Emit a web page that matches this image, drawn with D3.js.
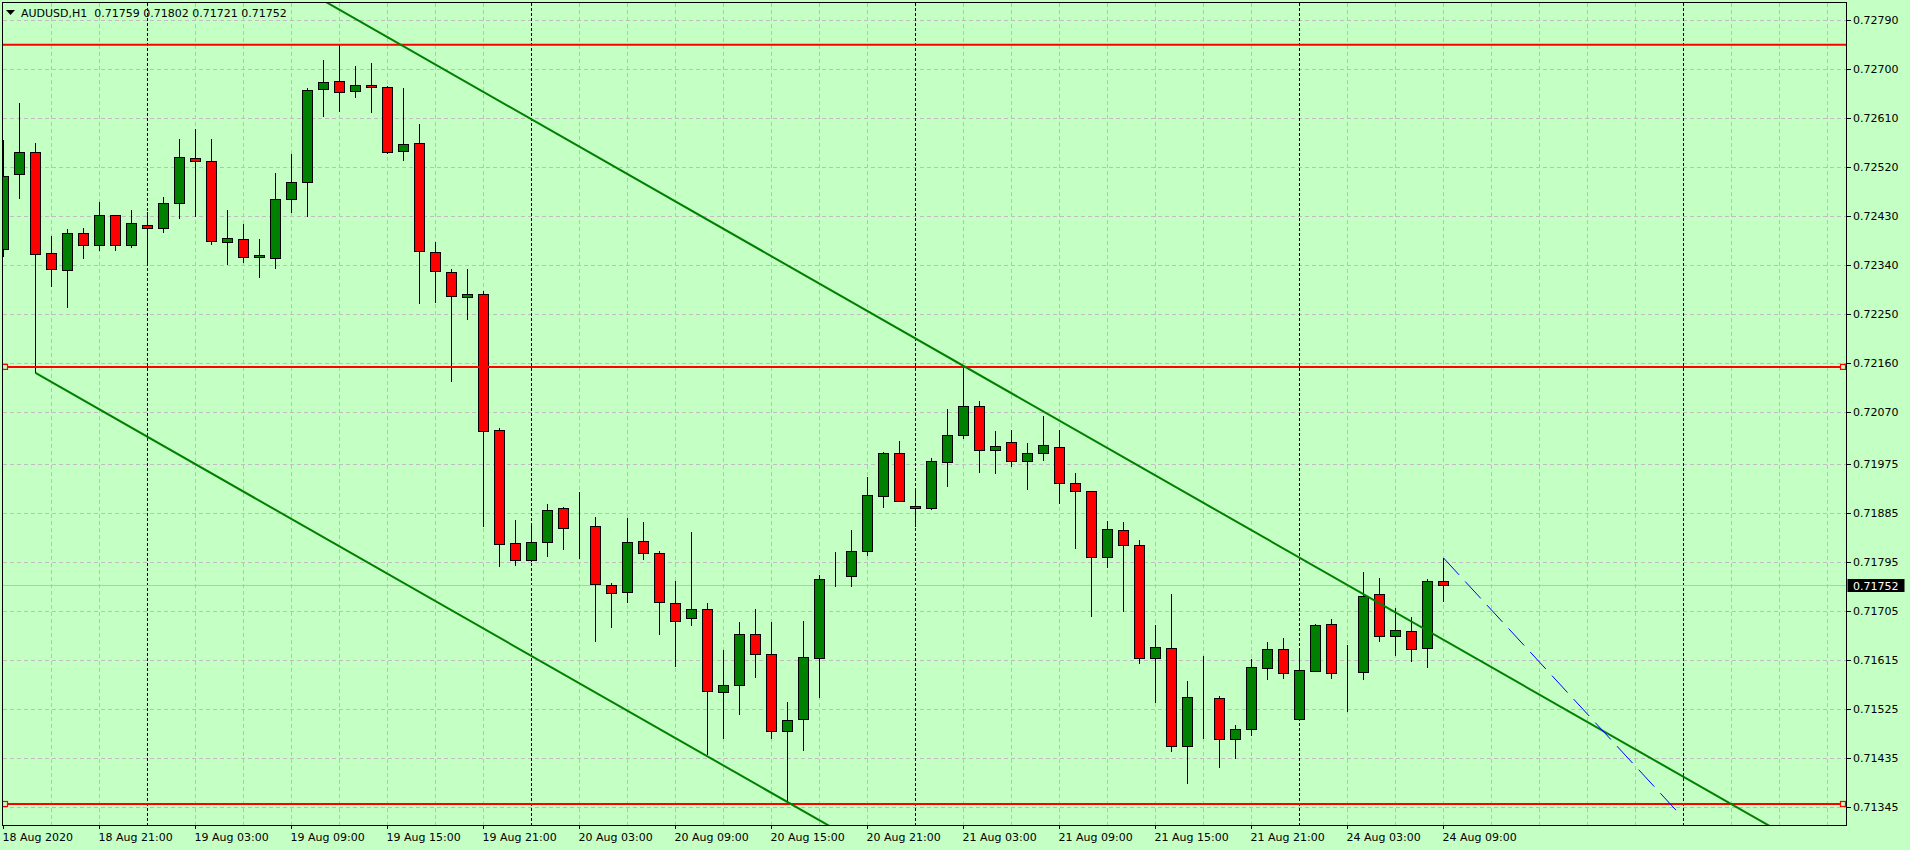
<!DOCTYPE html>
<html>
<head>
<meta charset="utf-8">
<script src="https://cdn.jsdelivr.net/npm/d3@7"></script>
<style>
  html, body { margin: 0; padding: 0; background: #c4ffc4; }
  svg { display: block; font-family: 'DejaVu Sans', sans-serif; }
</style>
</head>
<body>
<svg width="1910" height="850"></svg>
<script>
// AUDUSD H1, bars from 18 Aug 2020 15:00 (index 0) to 24 Aug 09:00 (index 90)
var title = 'AUDUSD,H1  0.71759 0.71802 0.71721 0.71752'
var lastPrice = 0.71752

// [open, high, low, close]
var bars = [
  [0.72369, 0.72570, 0.72355, 0.72502], [0.72507, 0.72637, 0.72461, 0.72547],
  [0.72547, 0.72565, 0.72142, 0.72360], [0.72362, 0.72393, 0.72299, 0.72332],
  [0.72330, 0.72406, 0.72261, 0.72398], [0.72398, 0.72409, 0.72352, 0.72376],
  [0.72376, 0.72456, 0.72366, 0.72431], [0.72431, 0.72433, 0.72366, 0.72376],
  [0.72376, 0.72442, 0.72372, 0.72417], [0.72413, 0.72437, 0.72344, 0.72407],
  [0.72407, 0.72465, 0.72399, 0.72453], [0.72453, 0.72571, 0.72424, 0.72538],
  [0.72536, 0.72590, 0.72428, 0.72530], [0.72531, 0.72571, 0.72377, 0.72384],
  [0.72382, 0.72441, 0.72340, 0.72389], [0.72387, 0.72415, 0.72343, 0.72354],
  [0.72354, 0.72388, 0.72316, 0.72358], [0.72352, 0.72510, 0.72332, 0.72461],
  [0.72461, 0.72544, 0.72436, 0.72492], [0.72492, 0.72665, 0.72428, 0.72661],
  [0.72663, 0.72717, 0.72612, 0.72676], [0.72677, 0.72747, 0.72622, 0.72657],
  [0.72659, 0.72705, 0.72647, 0.72670], [0.72670, 0.72712, 0.72620, 0.72666],
  [0.72666, 0.72670, 0.72545, 0.72547], [0.72549, 0.72666, 0.72531, 0.72562],
  [0.72564, 0.72600, 0.72268, 0.72365], [0.72363, 0.72382, 0.72270, 0.72329],
  [0.72327, 0.72332, 0.72125, 0.72283], [0.72281, 0.72332, 0.72240, 0.72286],
  [0.72286, 0.72292, 0.71858, 0.72034], [0.72037, 0.72040, 0.71786, 0.71827],
  [0.71829, 0.71872, 0.71788, 0.71797], [0.71797, 0.71865, 0.71795, 0.71831],
  [0.71830, 0.71901, 0.71803, 0.71890], [0.71892, 0.71896, 0.71817, 0.71857],
  [0.71860, 0.71923, 0.71800, 0.71860], [0.71860, 0.71877, 0.71648, 0.71754],
  [0.71752, 0.71756, 0.71674, 0.71737], [0.71739, 0.71876, 0.71720, 0.71831],
  [0.71833, 0.71868, 0.71799, 0.71811], [0.71811, 0.71814, 0.71661, 0.71721],
  [0.71719, 0.71760, 0.71601, 0.71686], [0.71690, 0.71850, 0.71677, 0.71708],
  [0.71708, 0.71719, 0.71440, 0.71556], [0.71554, 0.71633, 0.71469, 0.71567],
  [0.71567, 0.71684, 0.71514, 0.71662], [0.71662, 0.71708, 0.71581, 0.71624],
  [0.71624, 0.71685, 0.71470, 0.71484], [0.71484, 0.71538, 0.71352, 0.71504],
  [0.71506, 0.71686, 0.71448, 0.71620], [0.71618, 0.71770, 0.71544, 0.71763],
  [0.71765, 0.71813, 0.71748, 0.71765], [0.71768, 0.71854, 0.71748, 0.71813],
  [0.71814, 0.71951, 0.71806, 0.71917], [0.71914, 0.71997, 0.71893, 0.71994],
  [0.71993, 0.72017, 0.71904, 0.71906], [0.71897, 0.71930, 0.71859, 0.71892],
  [0.71892, 0.71985, 0.71890, 0.71980], [0.71978, 0.72075, 0.71932, 0.72027],
  [0.72027, 0.72155, 0.72020, 0.72081], [0.72081, 0.72090, 0.71959, 0.72000],
  [0.72000, 0.72035, 0.71957, 0.72007], [0.72015, 0.72037, 0.71970, 0.71980],
  [0.71980, 0.72013, 0.71926, 0.71993], [0.71994, 0.72062, 0.71981, 0.72009],
  [0.72005, 0.72037, 0.71902, 0.71939], [0.71939, 0.71958, 0.71819, 0.71925],
  [0.71925, 0.71925, 0.71694, 0.71803], [0.71803, 0.71870, 0.71784, 0.71855],
  [0.71853, 0.71868, 0.71702, 0.71824], [0.71824, 0.71835, 0.71607, 0.71618],
  [0.71618, 0.71679, 0.71536, 0.71638], [0.71636, 0.71735, 0.71445, 0.71456],
  [0.71456, 0.71576, 0.71387, 0.71545], [0.71547, 0.71622, 0.71469, 0.71547],
  [0.71543, 0.71548, 0.71416, 0.71469], [0.71469, 0.71495, 0.71433, 0.71486],
  [0.71486, 0.71616, 0.71474, 0.71600], [0.71598, 0.71647, 0.71578, 0.71633],
  [0.71633, 0.71655, 0.71579, 0.71590], [0.71506, 0.71633, 0.71504, 0.71596],
  [0.71594, 0.71680, 0.71592, 0.71677], [0.71679, 0.71690, 0.71579, 0.71590],
  [0.71592, 0.71642, 0.71519, 0.71592], [0.71592, 0.71777, 0.71578, 0.71732],
  [0.71734, 0.71766, 0.71647, 0.71658], [0.71658, 0.71710, 0.71621, 0.71668],
  [0.71666, 0.71694, 0.71610, 0.71633], [0.71635, 0.71764, 0.71599, 0.71759],
  [0.71759, 0.71802, 0.71721, 0.71752]
]

var timeLabels = ['18 Aug 2020', '18 Aug 21:00', '19 Aug 03:00', '19 Aug 09:00', '19 Aug 15:00',
  '19 Aug 21:00', '20 Aug 03:00', '20 Aug 09:00', '20 Aug 15:00', '20 Aug 21:00',
  '21 Aug 03:00', '21 Aug 09:00', '21 Aug 15:00', '21 Aug 21:00', '24 Aug 03:00', '24 Aug 09:00']
var timeLabelBars = [0, 6, 12, 18, 24, 30, 36, 42, 48, 54, 60, 66, 72, 78, 84, 90]

var priceTicks = ['0.72790', '0.72700', '0.72610', '0.72520', '0.72430', '0.72340', '0.72250',
  '0.72160', '0.72070', '0.71975', '0.71885', '0.71795', '0.71705', '0.71615', '0.71525',
  '0.71435', '0.71345']

var daySeparators = [9, 33, 57, 81, 105]

// horizontal levels: [price, has anchor markers]
var levels = [[0.72745, false], [0.72153, true], [0.71350, true]]

// trend lines as two anchor points [bar, price]
var upperChannel = [[20, 0.72826], [110, 0.71316]]
var lowerChannel = [[2, 0.72142], [60, 0.71169]]
var projection = [[90, 0.71802], [104.8, 0.71330]]

var svg = d3.select('svg')
var plot = {left: 2.5, top: 2.5, right: 1846.5, bottom: 825.5}

var x = d3.scaleLinear().domain([0, 90]).range([3.5, 1443.5])
var y = d3.scaleLinear().domain([0.71345, 0.72790]).range([806.7, 20.2])
var lastBar = Math.floor(x.invert(plot.right))

svg.append('defs').append('clipPath')
    .attr('id', 'clip')
  .append('rect')
    .attr('x', plot.left + 0.5)
    .attr('y', plot.top + 0.5)
    .attr('width', plot.right - plot.left - 1)
    .attr('height', plot.bottom - plot.top - 1)

var grid = svg.append('g').attr('shape-rendering', 'crispEdges')

// horizontal grid
grid.selectAll('.hgrid')
    .data(priceTicks)
  .enter().append('line')
    .attr('x1', plot.left)
    .attr('x2', plot.right)
    .attr('y1', d => Math.round(y(+d)) + 0.5)
    .attr('y2', d => Math.round(y(+d)) + 0.5)
    .attr('stroke', '#c2bbc2')
    .attr('stroke-dasharray', '4,3')

// vertical grid every 3 bars
var vgrid = d3.range(3, lastBar + 1, 3).filter(i => daySeparators.indexOf(i) < 0)
grid.selectAll('.vgrid')
    .data(vgrid)
  .enter().append('line')
    .attr('x1', d => x(d))
    .attr('x2', d => x(d))
    .attr('y1', plot.top)
    .attr('y2', plot.bottom)
    .attr('stroke', '#c2bbc2')
    .attr('stroke-dasharray', '4,3')

grid.selectAll('.sep')
    .data(daySeparators)
  .enter().append('line')
    .attr('x1', d => x(d))
    .attr('x2', d => x(d))
    .attr('y1', plot.top)
    .attr('y2', plot.bottom)
    .attr('stroke', '#000')
    .attr('stroke-dasharray', '3,2')

// bid line
grid.append('line')
    .attr('x1', plot.left)
    .attr('x2', plot.right)
    .attr('y1', Math.round(y(lastPrice)) + 0.5)
    .attr('y2', Math.round(y(lastPrice)) + 0.5)
    .attr('stroke', '#c0c0c0')

// candles
var candles = svg.append('g')
    .attr('clip-path', 'url(#clip)')
    .attr('shape-rendering', 'crispEdges')

var c = candles.selectAll('.bar')
    .data(bars)
  .enter().append('g')

c.append('line')
    .attr('x1', (d, i) => x(i))
    .attr('x2', (d, i) => x(i))
    .attr('y1', d => y(d[1]))
    .attr('y2', d => y(d[2]))
    .attr('stroke', '#000')

c.append('rect')
    .attr('x', (d, i) => x(i) - 5)
    .attr('width', 10)
    .attr('y', d => y(Math.max(d[0], d[3])))
    .attr('height', d => Math.abs(y(d[0]) - y(d[3])))
    .attr('fill', d => d[3] > d[0] ? '#008000' : (d[3] < d[0] ? '#ff0000' : '#000'))
    .attr('stroke', '#000')

// objects
var objects = svg.append('g').attr('clip-path', 'url(#clip)')

objects.selectAll('.level')
    .data(levels)
  .enter().append('line')
    .attr('x1', plot.left)
    .attr('x2', plot.right)
    .attr('y1', d => y(d[0]))
    .attr('y2', d => y(d[0]))
    .attr('stroke', '#ff0000')
    .attr('stroke-width', 2)

var markers = levels.filter(d => d[1])
objects.selectAll('.mark')
    .data(markers.map(d => [5, d[0]]).concat(markers.map(d => [1843, d[0]])))
  .enter().append('rect')
    .attr('x', d => d[0] - 2.5)
    .attr('y', d => y(d[1]) - 2.5)
    .attr('width', 5)
    .attr('height', 5)
    .attr('fill', '#c4ffc4')
    .attr('stroke', '#ff0000')
    .attr('stroke-width', 1.2)

function ray (pts, fromBar, toBar) {
  var slope = (pts[1][1] - pts[0][1]) / (pts[1][0] - pts[0][0])
  var at = b => pts[0][1] + slope * (b - pts[0][0])
  return [[fromBar, at(fromBar)], [toBar, at(toBar)]]
}

var line = d3.line()
    .x(d => x(d[0]))
    .y(d => y(d[1]))

objects.append('path')
    .datum(ray(upperChannel, -5, lastBar + 5))
    .attr('d', line)
    .attr('fill', 'none')
    .attr('stroke', '#008000')
    .attr('stroke-width', 2)

objects.append('path')
    .datum(ray(lowerChannel, lowerChannel[0][0], lastBar + 5))
    .attr('d', line)
    .attr('fill', 'none')
    .attr('stroke', '#008000')
    .attr('stroke-width', 2)

objects.append('path')
    .datum(projection)
    .attr('d', line)
    .attr('fill', 'none')
    .attr('stroke', '#0000ff')
    .attr('stroke-width', 1)
    .attr('stroke-dasharray', '23,9')

// frame
svg.append('rect')
    .attr('x', plot.left)
    .attr('y', plot.top)
    .attr('width', plot.right - plot.left)
    .attr('height', plot.bottom - plot.top)
    .attr('fill', 'none')
    .attr('stroke', '#000')
    .attr('shape-rendering', 'crispEdges')

// price axis
var yAxis = svg.append('g').attr('font-size', 11)
yAxis.selectAll('.tick')
    .data(priceTicks)
  .enter().append('line')
    .attr('x1', plot.right)
    .attr('x2', plot.right + 4)
    .attr('y1', d => Math.round(y(+d)) + 0.5)
    .attr('y2', d => Math.round(y(+d)) + 0.5)
    .attr('stroke', '#000')
    .attr('shape-rendering', 'crispEdges')
yAxis.selectAll('text')
    .data(priceTicks)
  .enter().append('text')
    .attr('x', 1853)
    .attr('y', d => y(+d) + 4)
    .attr('fill', '#000')
    .text(d => d)

yAxis.append('rect')
    .attr('x', plot.right + 1)
    .attr('y', Math.round(y(lastPrice)) - 6)
    .attr('width', 57)
    .attr('height', 13)
    .attr('fill', '#000')
yAxis.append('text')
    .attr('x', 1853)
    .attr('y', y(lastPrice) + 4.5)
    .attr('fill', '#fff')
    .text(lastPrice.toFixed(5))

// time axis
var xAxis = svg.append('g').attr('font-size', 11)
xAxis.selectAll('line')
    .data(timeLabelBars)
  .enter().append('line')
    .attr('x1', d => x(d))
    .attr('x2', d => x(d))
    .attr('y1', plot.bottom)
    .attr('y2', plot.bottom + 3)
    .attr('stroke', '#000')
    .attr('shape-rendering', 'crispEdges')
xAxis.selectAll('text')
    .data(timeLabelBars)
  .enter().append('text')
    .attr('x', d => x(d) - 1)
    .attr('y', 841)
    .attr('fill', '#000')
    .text((d, i) => timeLabels[i])

// header
svg.append('path')
    .attr('d', 'M6,10 L15,10 L10.5,15 Z')
    .attr('fill', '#000')
svg.append('text')
    .attr('x', 21)
    .attr('y', 17)
    .attr('font-size', 11)
    .attr('fill', '#000')
    .style('white-space', 'pre')
    .text(title)
</script>
</body>
</html>
